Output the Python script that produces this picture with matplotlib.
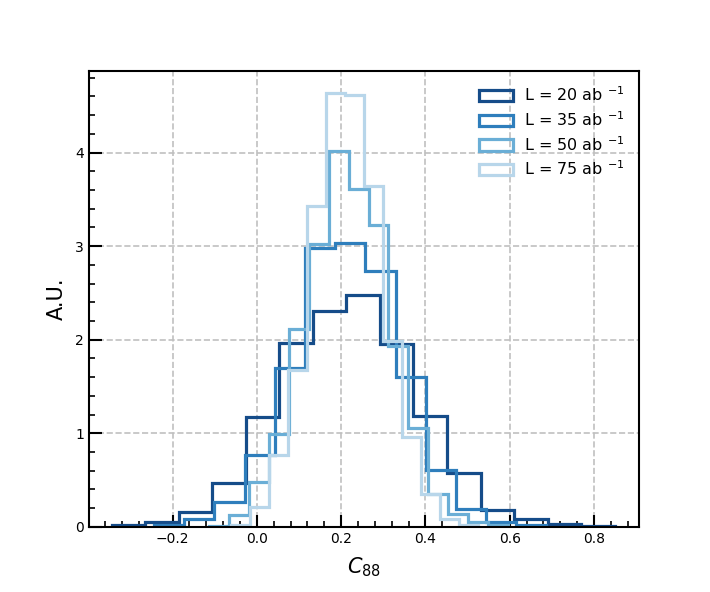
import numpy as np
import matplotlib
matplotlib.use('Agg')
import matplotlib.pyplot as plt
from matplotlib.ticker import AutoMinorLocator

# bin edges and densities, one set per luminosity
labels = [r'L = 20 ab $^{-1}$', r'L = 35 ab $^{-1}$', r'L = 50 ab $^{-1}$', r'L = 75 ab $^{-1}$']
colors = ['#154c89', '#2e7ebc', '#6aaed6', '#b8d6ea']

edges_20 = [-0.3447, -0.2651, -0.1855, -0.1059, -0.0263, 0.0533, 0.1329, 0.2125,
            0.2921, 0.3717, 0.4513, 0.5309, 0.6105, 0.6901, 0.7697, 0.8493]
dens_20 = [0.025, 0.05, 0.16, 0.467, 1.175, 1.96, 2.31, 2.48,
           1.95, 1.186, 0.58, 0.18, 0.08, 0.035, 0.01]

edges_35 = [-0.2441, -0.1725, -0.1008, -0.0292, 0.0425, 0.1142, 0.1858, 0.2575,
            0.3291, 0.4008, 0.4724, 0.5441, 0.6158, 0.6874]
dens_35 = [0.025, 0.08, 0.27, 0.766, 1.70, 2.98, 3.03, 2.74,
           1.60, 0.61, 0.19, 0.055, 0.018]

edges_50 = [-0.1130, -0.0657, -0.0185, 0.0288, 0.0761, 0.1234, 0.1706, 0.2179,
            0.2652, 0.3124, 0.3597, 0.4070, 0.4542, 0.5015, 0.5488, 0.5961]
dens_50 = [0.01, 0.125, 0.48, 0.99, 2.11, 3.02, 4.02, 3.61,
           3.23, 1.93, 1.06, 0.356, 0.14, 0.05, 0.015]

edges_75 = [-0.0617, -0.0166, 0.0286, 0.0738, 0.1189, 0.1641, 0.2092, 0.2544,
            0.2995, 0.3447, 0.3898, 0.4350, 0.4801, 0.5253]
dens_75 = [0.02, 0.21, 0.77, 1.68, 3.43, 4.64, 4.615, 3.64,
           1.99, 0.96, 0.35, 0.08, 0.02]

all_edges = [edges_20, edges_35, edges_50, edges_75]
all_dens = [dens_20, dens_35, dens_50, dens_75]

fig, ax = plt.subplots(figsize=(7.1, 5.92), dpi=100)

for edges, dens, col, lab in zip(all_edges, all_dens, colors, labels):
    edges = np.array(edges)
    ax.hist(edges[:-1], bins=edges, weights=dens, histtype='step',
            linewidth=2.3, color=col, label=lab)

ax.set_xlim(-0.399, 0.907)
ax.grid(True, linestyle='--', color='#c0c0c0', linewidth=1.2)
ax.xaxis.set_minor_locator(AutoMinorLocator(5))
ax.yaxis.set_minor_locator(AutoMinorLocator(5))
ax.tick_params(which='major', direction='in', length=9, width=1.5, labelsize=10)
ax.tick_params(which='minor', direction='in', length=4.5, width=1.2)
for sp in ax.spines.values():
    sp.set_linewidth(1.5)

ax.set_xlabel(r'$C_{88}$', fontsize=15, labelpad=7)
ax.set_ylabel('A.U.', fontsize=15, labelpad=6)
ax.legend(loc='upper right', frameon=False, fontsize=11.5, handlelength=2.1,
          labelspacing=0.38, handletextpad=0.7)

plt.savefig('out.png', dpi=100)
plt.close()
